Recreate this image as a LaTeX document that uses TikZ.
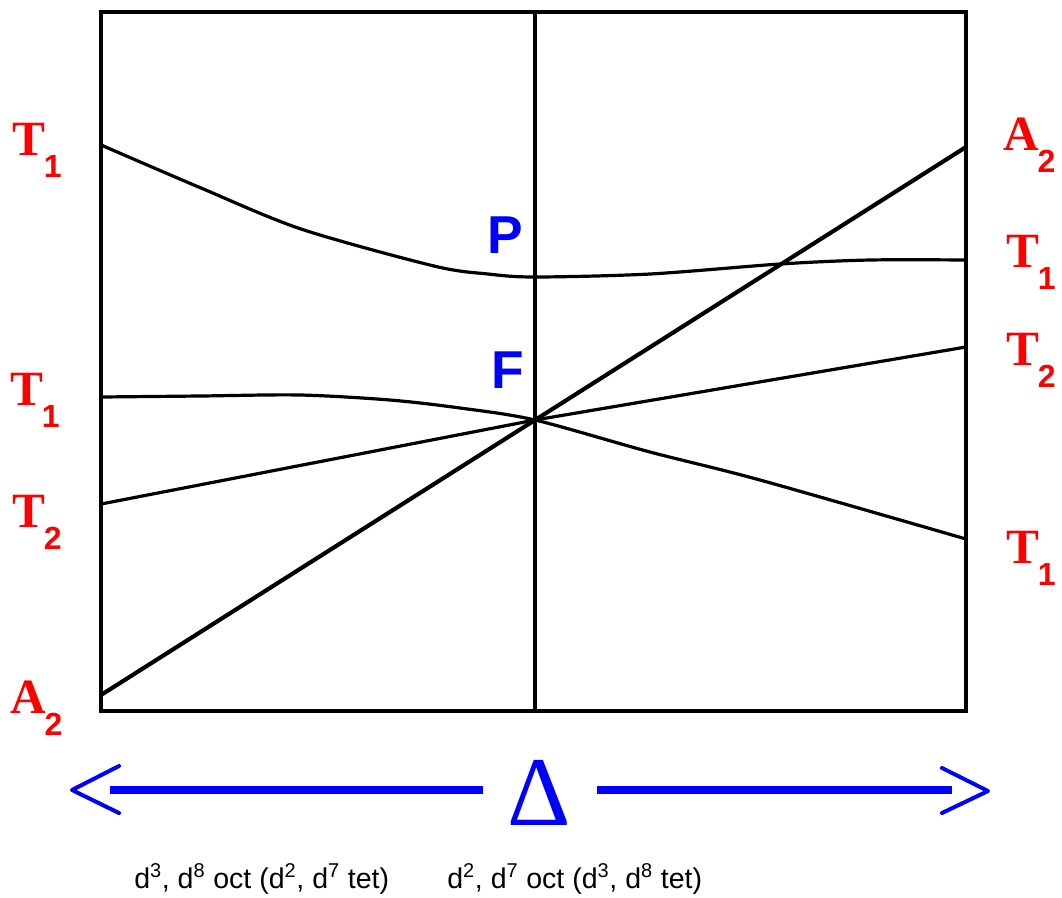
\documentclass[tikz,border=0pt]{standalone}
\usepackage{fontspec}
\setmainfont{Liberation Serif}
\newfontfamily\sansf{Liberation Sans}
\definecolor{lred}{RGB}{255,0,0}
\definecolor{lblue}{RGB}{0,0,255}
\newcommand{\termlab}[2]{{\fontsize{37}{37}\selectfont\bfseries #1}\kern-1pt\raisebox{-17pt}{\sansf\bfseries\fontsize{24}{24}\selectfont #2}}
\tikzset{
  lab/.style={text=lred, inner sep=0pt, anchor=base west},
  pt/.style={text=lblue, inner sep=0pt, anchor=base west, font=\sansf\bfseries\fontsize{40}{40}\selectfont},
  frame/.style={line width=2.4pt},
  curve/.style={line width=2.4pt, line join=round},
  thick line/.style={line width=3.1pt},
  chev/.style={lblue, line width=3pt, line join=round, line cap=round},
  shaft/.style={lblue, line width=6.5pt},
  caption/.style={inner sep=0pt, anchor=base west, font=\sansf\fontsize{21.4}{22}\selectfont}
}
\begin{document}
\begin{tikzpicture}[x=0.75pt,y=-0.75pt]
\useasboundingbox (0,0) rectangle (1062,897);
\fill[white] (0,0) rectangle (1062,897);
% frame
\draw[frame] (101,12) rectangle (966,711);
\draw[frame] (535,12) -- (535,711);
% curves
\draw[curve] plot[smooth, tension=0.5] coordinates {(101,145) (201,188) (301,229) (434,266) (488,274) (535,277) (650,274) (780,264) (870,260) (966,260)};
\draw[curve] plot[smooth, tension=0.5] coordinates {(101,397) (200,396) (300,395) (390,400) (460,408) (535,420) (650,452) (760,480) (966,539)};
\draw[curve] (101,504) -- (535,420) -- (966,347);
\draw[thick line] (101,695) -- (966,147);
% left labels
\node[lab] (l1) at (12,155) {\termlab{T}{1}};
\node[lab] (l2) at (10,405) {\termlab{T}{1}};
\node[lab] (l3) at (12,527) {\termlab{T}{2}};
\node[lab] (l4) at (10,713) {\termlab{A}{2}};
% right labels
\node[lab] (r1) at (1003,150) {\termlab{A}{2}};
\node[lab] (r2) at (1006,267) {\termlab{T}{1}};
\node[lab] (r3) at (1006,365) {\termlab{T}{2}};
\node[lab] (r4) at (1006,563) {\termlab{T}{1}};
% P and F
\node[pt] (P) at (487,253) {P};
\node[pt] (F) at (491,388) {F};
% Delta arrow
\node[text=lblue, inner sep=0pt, anchor=base, font=\fontsize{74}{74}\selectfont] (delta) at (539,825) {Δ};
\coordinate (ls) at (483,790);
\coordinate (le) at (110,790);
\coordinate (rs) at (597,790);
\coordinate (re) at (952,790);
\coordinate (ltip) at (72,790);
\coordinate (lt) at (119,766);
\coordinate (lb) at (119,813);
\coordinate (rtip) at (988,791);
\coordinate (rt) at (942,768);
\coordinate (rb) at (942,813);
\draw[shaft] (ls) -- (le);
\draw[shaft] (rs) -- (re);
\draw[chev] (lt) -- (ltip) -- (lb);
\draw[chev] (rt) -- (rtip) -- (rb);
% captions
\node[caption] (c1) at (134,888) {d\textsuperscript{3}, d\textsuperscript{8} oct (d\textsuperscript{2}, d\textsuperscript{7} tet)};
\node[caption] (c2) at (447,888) {d\textsuperscript{2}, d\textsuperscript{7} oct (d\textsuperscript{3}, d\textsuperscript{8} tet)};
\end{tikzpicture}
\end{document}
